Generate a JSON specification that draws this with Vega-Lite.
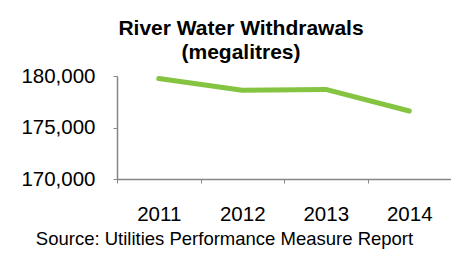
{
  "$schema": "https://vega.github.io/schema/vega-lite/v6.json",
  "width": 334,
  "height": 103,
  "autosize": {"type": "none"},
  "padding": {"left": 117, "top": 76, "right": 0, "bottom": 79},
  "background": "white",
  "title": {
    "text": ["River Water Withdrawals", "(megalitres)"],
    "font": "Liberation Sans",
    "fontSize": 21,
    "fontWeight": "bold",
    "color": "#000000",
    "lineHeight": 24,
    "anchor": "middle",
    "frame": "group",
    "dx": -43,
    "offset": 3
  },
  "data": {
    "values": [
      {"year": "2011", "value": 179750},
      {"year": "2012", "value": 178620},
      {"year": "2013", "value": 178700},
      {"year": "2014", "value": 176600}
    ]
  },
  "mark": {"type": "line", "color": "#84C441", "strokeWidth": 5, "strokeCap": "round", "strokeJoin": "round"},
  "encoding": {
    "x": {
      "field": "year",
      "type": "ordinal",
      "scale": {"type": "band", "paddingInner": 0, "paddingOuter": 0},
      "axis": {
        "tickBand": "extent",
        "labelAngle": 0,
        "labelFont": "Liberation Sans",
        "labelFontSize": 20.5,
        "labelColor": "#000000",
        "labelPadding": 21,
        "tickSize": 4,
        "tickColor": "#868686",
        "domainColor": "#868686",
        "domainWidth": 1.5,
        "title": "Source: Utilities Performance Measure Report",
        "titleFont": "Liberation Sans",
        "titleFontSize": 18.5,
        "titleFontWeight": "normal",
        "titleColor": "#000000",
        "titleX": 107,
        "titleY": 65,
        "titleAlign": "center",
        "titleBaseline": "alphabetic"
      }
    },
    "y": {
      "field": "value",
      "type": "quantitative",
      "scale": {"domain": [170000, 180000], "nice": false, "zero": false},
      "axis": {
        "values": [170000, 175000, 180000],
        "format": ",d",
        "grid": false,
        "labelFont": "Liberation Sans",
        "labelFontSize": 20.5,
        "labelColor": "#000000",
        "labelPadding": 18,
        "tickSize": 4,
        "tickColor": "#868686",
        "domainColor": "#868686",
        "domainWidth": 1.5,
        "title": null
      }
    }
  },
  "config": {"view": {"stroke": null}}
}
